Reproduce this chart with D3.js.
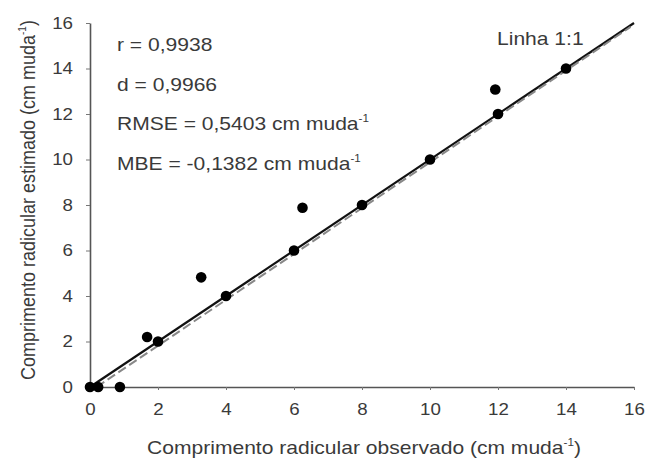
<!DOCTYPE html>
<html>
<head>
<meta charset="utf-8">
<script src="https://cdn.jsdelivr.net/npm/d3@7"></script>
<style>
  body { margin: 0; background: #fff; }
  svg text { font-family: "Liberation Sans", Arial, sans-serif; fill: #3a3a3a; }
</style>
</head>
<body>
<svg id="chart" width="650" height="465"></svg>
<script>
// Observed vs. estimated root length (cm per seedling)
const observed  = [0, 0.24, 0.88, 1.68, 2.0, 3.27, 4.0, 6.0, 6.25, 8.0, 10.0, 12.0, 11.92, 14.0];
const estimated = [0, 0,    0,    2.2,  2.0, 4.82, 4.0, 6.0, 7.88, 8.0, 10.0, 12.0, 13.08, 14.0];
const tickValues = [0, 2, 4, 6, 8, 10, 12, 14, 16];
const regression = { intercept: -0.2, slope: 1.008 };
const stats = [
  { label: "r = 0,9938", unit: false },
  { label: "d = 0,9966", unit: false },
  { label: "RMSE = 0,5403 cm muda", unit: true },
  { label: "MBE = -0,1382 cm muda", unit: true }
];

const SX = 1.17; // horizontal widening of the lettering

const svg = d3.select("#chart");
const x = d3.scaleLinear().domain([0, 16]).range([90, 634]);
const y = d3.scaleLinear().domain([0, 16]).range([387, 23]);

// axes
const xAxis = svg.append("g").attr("transform", `translate(0,${y(0)})`)
  .call(d3.axisBottom(x).tickValues(tickValues).tickSize(3).tickPadding(14).tickSizeOuter(0));
const yAxis = svg.append("g").attr("transform", `translate(${x(0)},0)`)
  .call(d3.axisLeft(y).tickValues(tickValues).tickSize(4).tickPadding(13).tickSizeOuter(0));
[xAxis, yAxis].forEach(a => {
  a.select(".domain").attr("stroke", "#555").attr("stroke-width", 1.6);
  a.selectAll(".tick line").attr("stroke", "#777");
  a.selectAll(".tick text").each(function () {
    const t = d3.select(this);
    const tx = +t.attr("x") || 0, ty = +t.attr("y") || 0;
    t.attr("x", 0).attr("y", 0)
      .attr("transform", `translate(${tx},${ty}) scale(${SX},1)`)
      .attr("font-size", 16).attr("fill", "#3a3a3a")
      .style("font-family", "'Liberation Sans', Arial, sans-serif");
  });
});

// 1:1 line
svg.append("line")
  .attr("x1", x(0)).attr("y1", y(0)).attr("x2", x(16)).attr("y2", y(16))
  .attr("stroke", "#111").attr("stroke-width", 2.2);

// fitted regression line
svg.append("line")
  .attr("x1", x(0.2)).attr("y1", y(regression.intercept + regression.slope * 0.2))
  .attr("x2", x(15.9)).attr("y2", y(regression.intercept + regression.slope * 15.9))
  .attr("stroke", "#888").attr("stroke-width", 2).attr("stroke-dasharray", "9,4");

// data points
svg.selectAll("circle.pt").data(observed).join("circle")
  .attr("class", "pt")
  .attr("cx", d => x(d))
  .attr("cy", (d, i) => y(estimated[i]))
  .attr("r", 5.3)
  .attr("fill", "#000");

// statistics block
const st = svg.selectAll("text.stat").data(stats).join("text")
  .attr("class", "stat")
  .attr("transform", (d, i) => `translate(117,${51 + i * 39.5}) scale(${SX},1)`)
  .attr("font-size", 18);
st.append("tspan").text(d => d.label);
st.filter(d => d.unit).append("tspan")
  .attr("font-size", 10).attr("dy", -8).text("-1");

svg.append("text")
  .attr("transform", `translate(497,45) scale(${SX},1)`)
  .attr("font-size", 18).text("Linha 1:1");

// axis titles
const xt = svg.append("text")
  .attr("transform", `translate(364,454) scale(${SX},1)`)
  .attr("text-anchor", "middle").attr("font-size", 18);
xt.append("tspan").text("Comprimento radicular observado (cm muda");
xt.append("tspan").attr("font-size", 10).attr("dy", -8).text("-1");
xt.append("tspan").attr("dy", 8).text(")");

const yt = svg.append("text")
  .attr("transform", "translate(35,200) rotate(-90) scale(1,1.17)")
  .attr("text-anchor", "middle").attr("font-size", 18);
yt.append("tspan").text("Comprimento radicular estimado (cm muda");
yt.append("tspan").attr("font-size", 10).attr("dy", -8).text("-1");
yt.append("tspan").attr("dy", 8).text(")");
</script>
</body>
</html>
